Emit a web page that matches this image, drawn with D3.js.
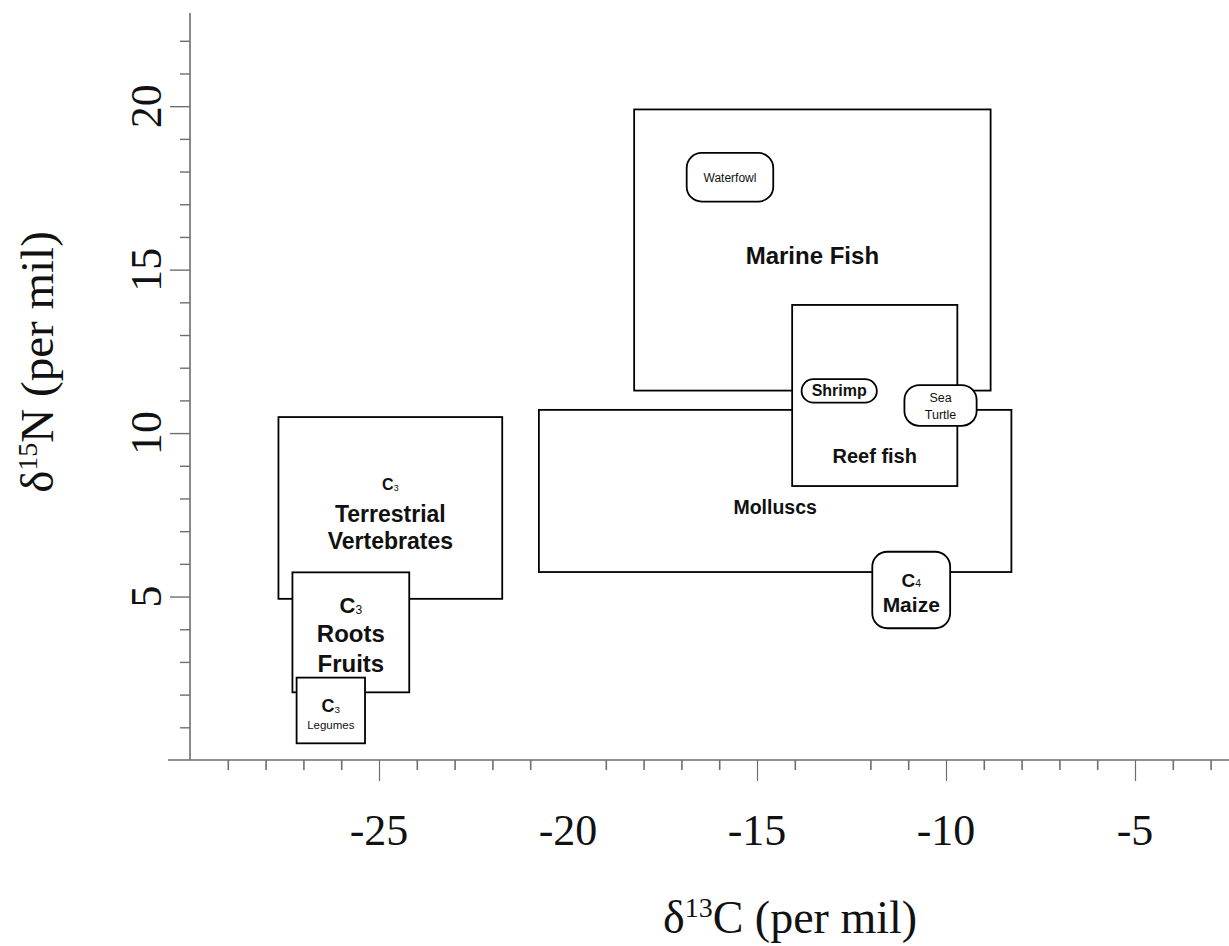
<!DOCTYPE html>
<html>
<head>
<meta charset="utf-8">
<script src="https://cdn.jsdelivr.net/npm/d3@7"></script>
<style>
  body { margin: 0; background: #fff; }
  svg { display: block; }
  .serif { font-family: "Liberation Serif", "Times New Roman", serif; fill: #111; }
  .sans { font-family: "Liberation Sans", Arial, sans-serif; fill: #111; }
</style>
</head>
<body>
<div id="container"></div>
<script>
/* CONSTANTS AND GLOBALS */
const width = 1229;
const height = 946;

/* DATA (per mil) */
// rectangular food-group ranges, drawn back to front
const boxNames = ["Marine Fish", "Molluscs", "Reef fish", "Terrestrial", "Roots", "Legumes"];
const boxC13 = [[-18.25, -8.82], [-20.77, -8.27], [-14.07, -9.70], [-27.66, -21.74], [-27.29, -24.20], [-27.18, -25.37]];
const boxN15 = [[11.30, 19.90], [5.75, 10.71], [8.38, 13.92], [4.93, 10.49], [2.07, 5.74], [0.51, 2.52]];
// first-line baseline of each box label (N15 value)
const boxLabelN15 = [15.17, 7.53, 9.08, 8.26, 4.50, 1.47];

// rounded "pill" groups
const pillNames = ["Waterfowl", "Shrimp", "Sea Turtle", "Maize"];
const pillC13 = [[-16.86, -14.57], [-13.82, -11.83], [-11.10, -9.19], [-11.95, -9.89]];
const pillN15 = [[17.08, 18.57], [10.93, 11.65], [10.22, 11.47], [4.03, 6.37]];

// axis ticks
const xMinorTicks = [-29, -28, -27, -26, -24, -23, -22, -21, -19, -18, -17, -16, -14, -12, -11, -9, -8, -7, -6, -4, -3];
const xMajorTicks = [-25, -15, -10, -5];
const xTickLabels = [-25, -20, -15, -10, -5];
const yMinorTicks = [1, 2, 3, 4, 6, 7, 8, 9, 11, 12, 13, 14, 16, 17, 18, 19, 21, 22];
const yMajorTicks = [5, 10, 15, 20];

/* SCALES */
const x = d3.scaleLinear().domain([-30, -2.5]).range([190, 1229.5]);
const y = d3.scaleLinear().domain([0, 22.85]).range([760, 13]);

/* SVG */
const svg = d3.select("#container")
  .append("svg")
  .attr("width", width)
  .attr("height", height);

/* AXES */
const axisColor = "#6e6e6e";

function styleTicks(g, w) {
  g.select(".domain").remove();
  g.selectAll(".tick line").attr("stroke", axisColor).attr("stroke-width", w);
}

svg.append("g")
  .attr("transform", `translate(0,${y(0)})`)
  .call(d3.axisBottom(x).tickValues(xMinorTicks).tickSize(10).tickFormat(""))
  .call(g => styleTicks(g, 1.6));

svg.append("g")
  .attr("transform", `translate(0,${y(0)})`)
  .call(d3.axisBottom(x).tickValues(xMajorTicks).tickSize(21).tickFormat(""))
  .call(g => styleTicks(g, 1.2));

svg.append("g")
  .attr("transform", `translate(${x(-30)},0)`)
  .call(d3.axisLeft(y).tickValues(yMinorTicks).tickSize(10).tickFormat(""))
  .call(g => styleTicks(g, 1.4));

svg.append("g")
  .attr("transform", `translate(${x(-30)},0)`)
  .call(d3.axisLeft(y).tickValues(yMajorTicks).tickSize(20).tickFormat(""))
  .call(g => styleTicks(g, 1.4));

// axis lines
svg.append("line")
  .attr("x1", x(-30) - 22).attr("x2", width)
  .attr("y1", y(0)).attr("y2", y(0))
  .attr("stroke", axisColor).attr("stroke-width", 1.6);

svg.append("line")
  .attr("x1", x(-30)).attr("x2", x(-30))
  .attr("y1", y(22.85)).attr("y2", y(0))
  .attr("stroke", axisColor).attr("stroke-width", 1.6);

// tick labels
svg.selectAll(".xlab")
  .data(xTickLabels)
  .enter()
  .append("text")
  .attr("class", "xlab serif")
  .attr("x", d => x(d))
  .attr("y", 845)
  .attr("text-anchor", "middle")
  .style("font-size", "44px")
  .text(d => d);

svg.selectAll(".ylab")
  .data(yMajorTicks)
  .enter()
  .append("text")
  .attr("class", "ylab serif")
  .attr("transform", d => `translate(161,${y(d)}) rotate(-90)`)
  .attr("text-anchor", "middle")
  .style("font-size", "44px")
  .text(d => d);

// axis titles
const xTitle = svg.append("text")
  .attr("class", "serif")
  .attr("x", 790)
  .attr("y", 933)
  .attr("text-anchor", "middle")
  .style("font-size", "46px");
xTitle.append("tspan").text("δ");
xTitle.append("tspan").attr("dy", -16).style("font-size", "28px").text("13");
xTitle.append("tspan").attr("dy", 16).text("C (per mil)");

const yTitle = svg.append("text")
  .attr("class", "serif")
  .attr("transform", "translate(53,362) rotate(-90)")
  .attr("text-anchor", "middle")
  .style("font-size", "47px");
yTitle.append("tspan").text("δ");
yTitle.append("tspan").attr("dy", -16).style("font-size", "28px").text("15");
yTitle.append("tspan").attr("dy", 16).text("N (per mil)");

/* BOXES */
const boxes = boxNames.map((name, i) => ({
  name, c: boxC13[i], n: boxN15[i], labelN: boxLabelN15[i]
}));

svg.selectAll(".box")
  .data(boxes)
  .enter()
  .append("rect")
  .attr("class", "box")
  .attr("x", d => x(d.c[0]))
  .attr("y", d => y(d.n[1]))
  .attr("width", d => x(d.c[1]) - x(d.c[0]))
  .attr("height", d => y(d.n[0]) - y(d.n[1]))
  .attr("fill", "#fff")
  .attr("stroke", "#000")
  .attr("stroke-width", 1.8);

// label lines per box: [text, subscript, font size, bold, offset from first baseline]
const boxLabelLines = {
  "Marine Fish": [["Marine Fish", "", 24, true, 0]],
  "Molluscs": [["Molluscs", "", 19.5, true, 0]],
  "Reef fish": [["Reef fish", "", 20, true, 0]],
  "Terrestrial": [["C", "3", 16, true, 0], ["Terrestrial", "", 23, true, 32], ["Vertebrates", "", 23, true, 59]],
  "Roots": [["C", "3", 22, true, 0], ["Roots", "", 24, true, 29.5], ["Fruits", "", 24, true, 59]],
  "Legumes": [["C", "3", 18, true, 0], ["Legumes", "", 11.5, false, 17.5]]
};

function addLine(cx, by, ln) {
  const t = svg.append("text")
    .attr("class", "sans")
    .attr("x", cx)
    .attr("y", by)
    .attr("text-anchor", "middle")
    .style("font-size", ln[2] + "px")
    .style("font-weight", ln[3] ? "bold" : "normal")
    .text(ln[0]);
  if (ln[1]) {
    t.append("tspan")
      .attr("dy", ln[2] * 0.05)
      .style("font-size", (ln[2] * 0.55) + "px")
      .style("font-weight", "normal")
      .text(ln[1]);
  }
}

boxes.forEach(d => {
  const cx = (x(d.c[0]) + x(d.c[1])) / 2;
  boxLabelLines[d.name].forEach(ln => addLine(cx, y(d.labelN) + ln[4], ln));
});

/* PILLS */
const pills = pillNames.map((name, i) => ({ name, c: pillC13[i], n: pillN15[i] }));

svg.selectAll(".pill")
  .data(pills)
  .enter()
  .append("rect")
  .attr("class", "pill")
  .attr("x", d => x(d.c[0]))
  .attr("y", d => y(d.n[1]))
  .attr("width", d => x(d.c[1]) - x(d.c[0]))
  .attr("height", d => y(d.n[0]) - y(d.n[1]))
  .attr("rx", d => Math.min((y(d.n[0]) - y(d.n[1])) / 2, 15))
  .attr("fill", "#fff")
  .attr("stroke", "#000")
  .attr("stroke-width", 1.8);

// pill label lines, offsets from pill centre
const pillLabelLines = {
  "Waterfowl": [["Waterfowl", "", 12, false, 5]],
  "Shrimp": [["Shrimp", "", 16, true, 5.5]],
  "Sea Turtle": [["Sea", "", 12.5, false, -3], ["Turtle", "", 12.5, false, 13.5]],
  "Maize": [["C", "4", 19, true, -3.5], ["Maize", "", 21, true, 21.5]]
};

pills.forEach(d => {
  const cx = (x(d.c[0]) + x(d.c[1])) / 2;
  const cy = (y(d.n[0]) + y(d.n[1])) / 2;
  pillLabelLines[d.name].forEach(ln => addLine(cx, cy + ln[4], ln));
});
</script>
</body>
</html>
